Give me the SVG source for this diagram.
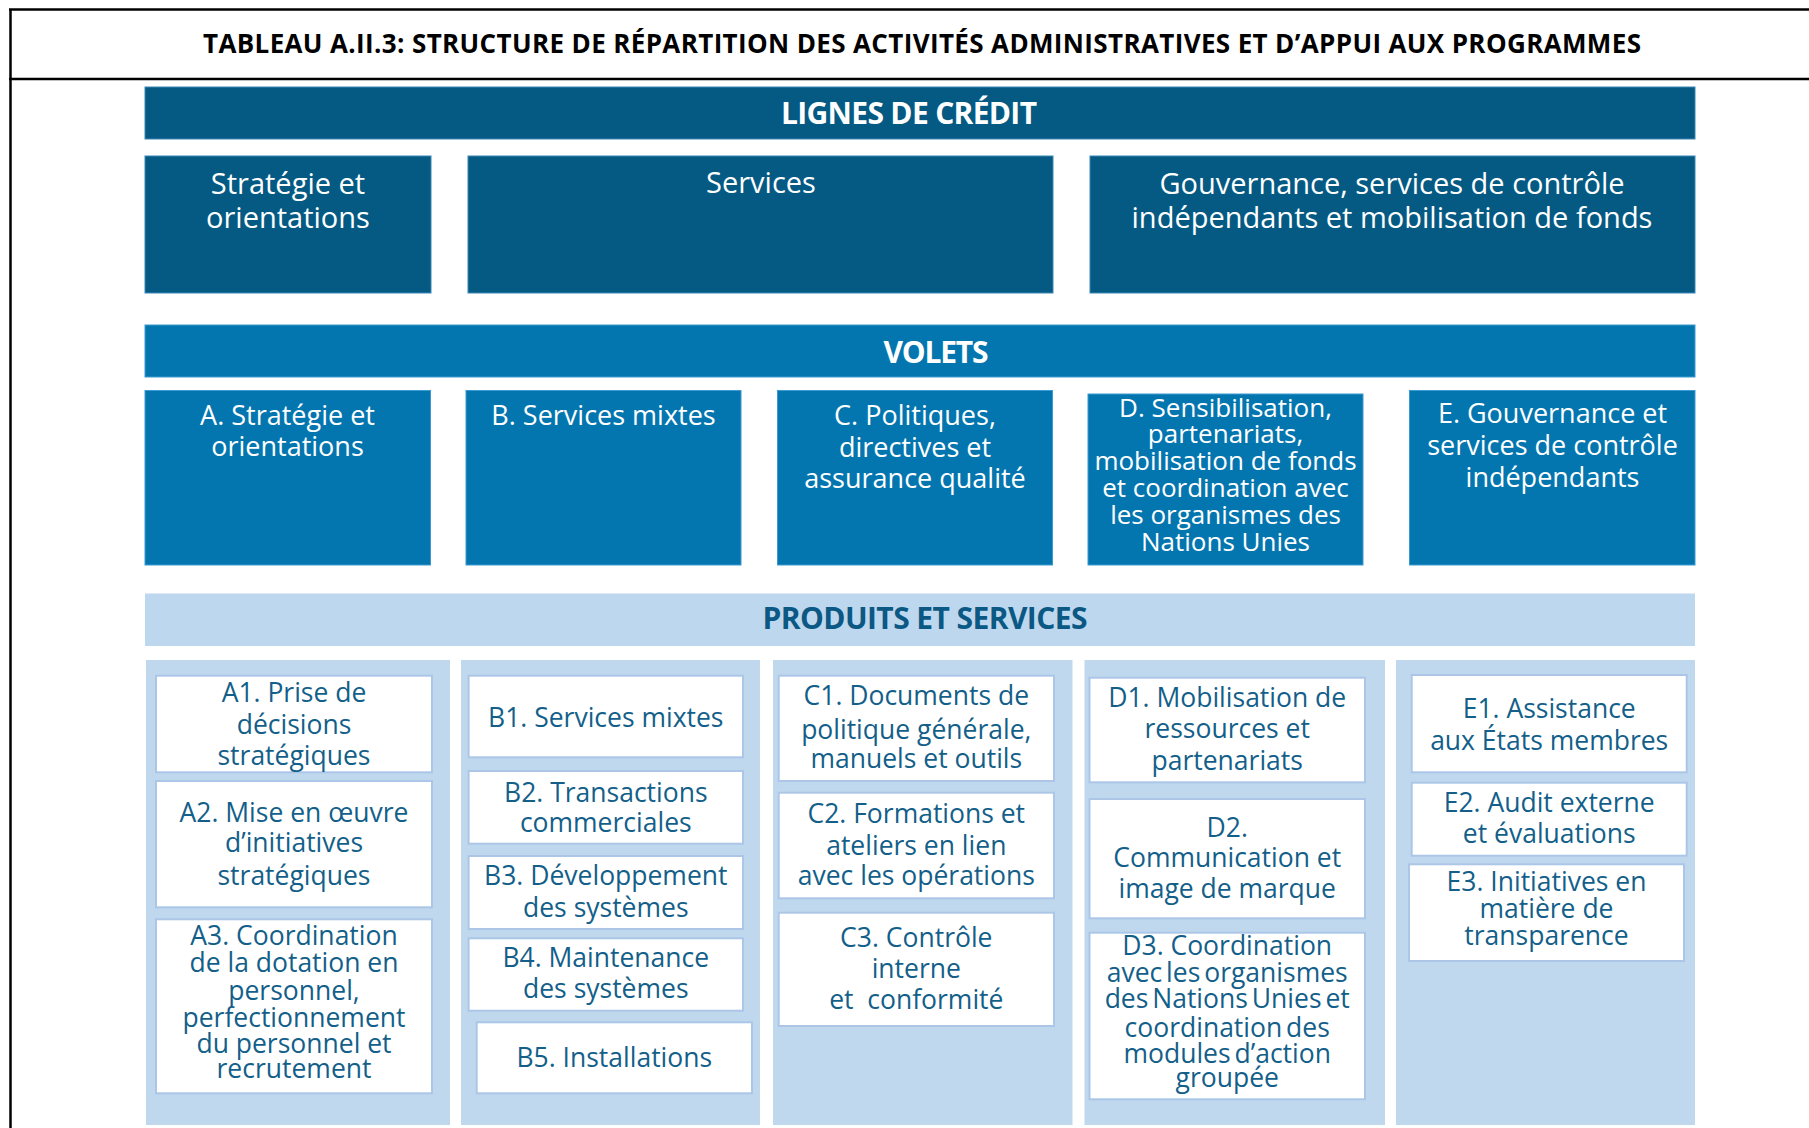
<svg xmlns="http://www.w3.org/2000/svg" width="1809" height="1128" viewBox="0 0 1809 1128">
<style>
.frame{stroke:#000;stroke-width:2.5;fill:none}
.title{font-family:'Open Sans','Noto Sans','Liberation Sans',sans-serif;font-weight:700;font-size:26px;fill:#000}
.hdr{font-family:'Open Sans','Noto Sans','Liberation Sans',sans-serif;font-weight:700;font-size:30px;text-anchor:middle}
.dark{fill:#045a83;stroke:#3a87b5;stroke-width:1}
.mid{fill:#0476af;stroke:#3d9ad0;stroke-width:1}
.light{fill:#bdd7ee}
.col{fill:#bfd8ee}
.box{fill:#fff;stroke:#abc6e7;stroke-width:2}
.wt{font-family:'Open Sans','Noto Sans','Liberation Sans',sans-serif;fill:#fff;text-anchor:middle}
.l1{font-size:29px}
.l2{font-size:27px}
.l2d{font-size:26px}
.pt{font-family:'Open Sans','Noto Sans','Liberation Sans',sans-serif;font-size:26.5px;fill:#135f8a;text-anchor:middle}
</style>

<g id="frame">
  <line class="frame" x1="10.5" y1="9" x2="10.5" y2="1128"/>
  <line class="frame" x1="9" y1="9.5" x2="1809" y2="9.5"/>
  <line class="frame" x1="9" y1="79" x2="1809" y2="79"/>
  <text class="title" x="922" y="53" text-anchor="middle" textLength="1438" lengthAdjust="spacing">TABLEAU A.II.3: STRUCTURE DE RÉPARTITION DES ACTIVITÉS ADMINISTRATIVES ET D’APPUI AUX PROGRAMMES</text>
</g>

<g id="connectors"></g>

<g id="lignes-header">
  <rect class="dark" x="145" y="87" width="1550" height="52"/>
  <text class="hdr" x="909" y="124" fill="#fff" textLength="256" lengthAdjust="spacing">LIGNES DE CRÉDIT</text>
</g>
<g id="ligne-strategie">
  <rect class="dark" x="145" y="156" width="286" height="137"/>
  <text class="wt l1" x="288" y="193.5">Stratégie et</text>
  <text class="wt l1" x="288" y="228">orientations</text>
</g>
<g id="ligne-services">
  <rect class="dark" x="468" y="156" width="585" height="137"/>
  <text class="wt l1" x="761" y="193">Services</text>
</g>
<g id="ligne-gouvernance">
  <rect class="dark" x="1090" y="156" width="605" height="137"/>
  <text class="wt l1" x="1392" y="194">Gouvernance, services de contrôle</text>
  <text class="wt l1" x="1392" y="228">indépendants  et mobilisation de fonds</text>
</g>

<g id="volets-header">
  <rect class="mid" x="145" y="325" width="1550" height="52"/>
  <text class="hdr" x="936" y="362.5" fill="#fff" textLength="105" lengthAdjust="spacing">VOLETS</text>
</g>
<g id="volet-A">
  <rect class="mid" x="145" y="390.5" width="285.5" height="174.5"/>
  <text class="wt l2" x="287.5" y="425">A. Stratégie et</text>
  <text class="wt l2" x="287.5" y="456">orientations</text>
</g>
<g id="volet-B">
  <rect class="mid" x="466" y="390.5" width="275" height="174.5"/>
  <text class="wt l2" x="603.5" y="425">B. Services mixtes</text>
</g>
<g id="volet-C">
  <rect class="mid" x="777.5" y="390.5" width="275" height="174.5"/>
  <text class="wt l2" x="915" y="425">C. Politiques,</text>
  <text class="wt l2" x="915" y="456.7">directives et</text>
  <text class="wt l2" x="915" y="488.3">assurance qualité</text>
</g>
<g id="volet-D">
  <rect class="mid" x="1088" y="394" width="275" height="171"/>
  <text class="wt l2d" x="1225.5" y="416.7">D. Sensibilisation,</text>
  <text class="wt l2d" x="1225.5" y="443.3">partenariats,</text>
  <text class="wt l2d" x="1225.5" y="470">mobilisation de fonds</text>
  <text class="wt l2d" x="1225.5" y="497.3">et coordination avec</text>
  <text class="wt l2d" x="1225.5" y="524">les organismes des</text>
  <text class="wt l2d" x="1225.5" y="550.7">Nations Unies</text>
</g>
<g id="volet-E">
  <rect class="mid" x="1409.5" y="390.5" width="285.5" height="174.5"/>
  <text class="wt l2" x="1552.5" y="423.3">E. Gouvernance et</text>
  <text class="wt l2" x="1552.5" y="455">services de contrôle</text>
  <text class="wt l2" x="1552.5" y="486.7">indépendants</text>
</g>

<g id="produits-header">
  <rect class="light" x="145" y="593.5" width="1550" height="52.5"/>
  <text class="hdr" x="925" y="629.3" fill="#0a5883" textLength="325" lengthAdjust="spacing">PRODUITS ET SERVICES</text>
</g>

<g id="colonnes">
  <rect class="col" x="146" y="660" width="304" height="465"/>
  <rect class="col" x="461" y="660" width="299" height="465"/>
  <rect class="col" x="773" y="660" width="299.5" height="465"/>
  <rect class="col" x="1084.5" y="660" width="300.5" height="465"/>
  <rect class="col" x="1396" y="660" width="299" height="465"/>
</g>

<g id="A1">
  <rect class="box" x="156" y="675.7" width="276" height="96.6"/>
  <text class="pt" x="294" y="701.7">A1. Prise de</text>
  <text class="pt" x="294" y="734">décisions</text>
  <text class="pt" x="294" y="765">stratégiques</text>
</g>
<g id="A2">
  <rect class="box" x="156" y="781" width="276" height="126.3"/>
  <text class="pt" x="294" y="821.7">A2. Mise en œuvre</text>
  <text class="pt" x="294" y="851.7">d’initiatives</text>
  <text class="pt" x="294" y="885">stratégiques</text>
</g>
<g id="A3">
  <rect class="box" x="156" y="919.3" width="276" height="174"/>
  <text class="pt" x="294" y="945">A3. Coordination</text>
  <text class="pt" x="294" y="971.7">de la dotation en</text>
  <text class="pt" x="294" y="1000">personnel,</text>
  <text class="pt" x="294" y="1026.7">perfectionnement</text>
  <text class="pt" x="294" y="1053.3">du personnel et</text>
  <text class="pt" x="294" y="1078.3">recrutement</text>
</g>

<g id="B1">
  <rect class="box" x="468.6" y="675.7" width="274.4" height="81.6"/>
  <text class="pt" x="605.8" y="726.7">B1. Services mixtes</text>
</g>
<g id="B2">
  <rect class="box" x="468.6" y="771" width="274.4" height="72.7"/>
  <text class="pt" x="605.8" y="801.7">B2. Transactions</text>
  <text class="pt" x="605.8" y="831.7">commerciales</text>
</g>
<g id="B3">
  <rect class="box" x="468.6" y="856" width="274.4" height="73"/>
  <text class="pt" x="605.8" y="885">B3. Développement</text>
  <text class="pt" x="605.8" y="916.7">des systèmes</text>
</g>
<g id="B4">
  <rect class="box" x="468.6" y="938.3" width="274.4" height="72.4"/>
  <text class="pt" x="605.8" y="966.7">B4. Maintenance</text>
  <text class="pt" x="605.8" y="998.3">des systèmes</text>
</g>
<g id="B5">
  <rect class="box" x="476.7" y="1022.3" width="275.3" height="71"/>
  <text class="pt" x="614.3" y="1066.7">B5. Installations</text>
</g>

<g id="C1">
  <rect class="box" x="778.7" y="675.7" width="275.3" height="105.3"/>
  <text class="pt" x="916.3" y="705">C1. Documents de</text>
  <text class="pt" x="916.3" y="739.3">politique générale,</text>
  <text class="pt" x="916.3" y="768.3">manuels et outils</text>
</g>
<g id="C2">
  <rect class="box" x="778.7" y="792.7" width="275.3" height="105.6"/>
  <text class="pt" x="916.3" y="823.3">C2. Formations et</text>
  <text class="pt" x="916.3" y="855">ateliers en lien</text>
  <text class="pt" x="916.3" y="885">avec les opérations</text>
</g>
<g id="C3">
  <rect class="box" x="778.7" y="912.7" width="275.3" height="113.3"/>
  <text class="pt" x="916.3" y="946.7">C3. Contrôle</text>
  <text class="pt" x="916.3" y="978.3">interne</text>
  <text class="pt" x="916.3" y="1009">et&#160; conformité</text>
</g>

<g id="D1">
  <rect class="box" x="1089.5" y="677.7" width="275.5" height="104.6"/>
  <text class="pt" x="1227.2" y="706.7">D1. Mobilisation de</text>
  <text class="pt" x="1227.2" y="738.3">ressources et</text>
  <text class="pt" x="1227.2" y="770">partenariats</text>
</g>
<g id="D2">
  <rect class="box" x="1089.5" y="799" width="275.5" height="119.3"/>
  <text class="pt" x="1227.2" y="836.7">D2.</text>
  <text class="pt" x="1227.2" y="866.7">Communication et</text>
  <text class="pt" x="1227.2" y="898.3">image de marque</text>
</g>
<g id="D3">
  <rect class="box" x="1089.5" y="932.7" width="275.5" height="166.6"/>
  <text class="pt" x="1227.2" y="955">D3. Coordination</text>
  <text class="pt" x="1227.2" y="981.7" word-spacing="-3">avec les organismes</text>
  <text class="pt" x="1227.2" y="1008.3" word-spacing="-3">des Nations Unies et</text>
  <text class="pt" x="1227.2" y="1036.7" word-spacing="-3">coordination des</text>
  <text class="pt" x="1227.2" y="1063.3" word-spacing="-3">modules d’action</text>
  <text class="pt" x="1227.2" y="1086.7">groupée</text>
</g>

<g id="E1">
  <rect class="box" x="1411.7" y="675" width="275" height="97.3"/>
  <text class="pt" x="1549.2" y="718.3">E1. Assistance</text>
  <text class="pt" x="1549.2" y="750">aux États membres</text>
</g>
<g id="E2">
  <rect class="box" x="1411.7" y="782.7" width="275" height="73"/>
  <text class="pt" x="1549.2" y="811.7">E2. Audit externe</text>
  <text class="pt" x="1549.2" y="843.3">et évaluations</text>
</g>
<g id="E3">
  <rect class="box" x="1409" y="864.3" width="275" height="96.7"/>
  <text class="pt" x="1546.5" y="891">E3. Initiatives en</text>
  <text class="pt" x="1546.5" y="918.3">matière de</text>
  <text class="pt" x="1546.5" y="945">transparence</text>
</g>
</svg>
